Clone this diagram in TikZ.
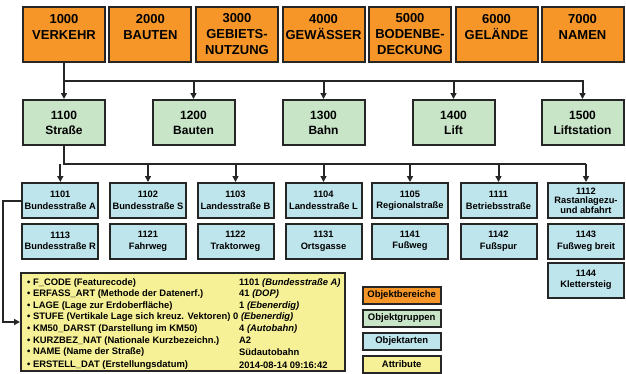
\documentclass[tikz,border=0pt]{standalone}
\usepackage{fontspec}
\setmainfont{Liberation Sans}
\usetikzlibrary{arrows.meta}

\definecolor{bereich}{RGB}{246,150,40}
\definecolor{gruppe}{RGB}{200,229,200}
\definecolor{art}{RGB}{190,228,236}
\definecolor{attrib}{RGB}{246,240,150}

\tikzset{
    box/.style={draw=black!85, line width=2pt, align=center, inner sep=0pt,
        font=\bfseries},
    bereichbox/.style={box, fill=bereich, minimum width=82, minimum height=55,
        font=\bfseries\fontsize{13}{16}\selectfont},
    gruppebox/.style={box, fill=gruppe, minimum width=82, minimum height=45,
        font=\bfseries\fontsize{12}{15}\selectfont},
    artbox/.style={box, fill=art, minimum width=76, minimum height=35,
        font=\bfseries\fontsize{9.3}{11.5}\selectfont},
    legendbox/.style={box, minimum width=78, minimum height=17,
        font=\bfseries\fontsize{9.5}{11}\selectfont},
    attrline/.style={anchor=west, inner sep=0pt, font=\bfseries\fontsize{9.4}{11}\selectfont},
    link/.style={draw=black!85, line width=2pt},
    linkarrow/.style={link, -{Triangle[length=6pt,width=6pt]}},
}

\begin{document}
\begin{tikzpicture}[x=1pt,y=-1pt]
    \useasboundingbox (0,0) rectangle (626,373);

    % Objektbereiche
    \node[bereichbox] (b1000) at (64,34.5) {1000\\VERKEHR\\~};
    \node[bereichbox] (b2000) at (150.4,34.5) {2000\\BAUTEN\\~};
    \node[bereichbox] (b3000) at (237,34.5) {3000\\GEBIETS-\\NUTZUNG};
    \node[bereichbox] (b4000) at (323.5,34.5) {4000\\GEWÄSSER\\~};
    \node[bereichbox] (b5000) at (410,34.5) {5000\\BODENBE-\\DECKUNG};
    \node[bereichbox] (b6000) at (496.5,34.5) {6000\\GELÄNDE\\~};
    \node[bereichbox] (b7000) at (582.5,34.5) {7000\\NAMEN\\~};

    % Objektgruppen
    \node[gruppebox] (g1100) at (64,122.5) {1100\\Straße};
    \node[gruppebox] (g1200) at (193.5,122.5) {1200\\Bauten};
    \node[gruppebox] (g1300) at (323.5,122.5) {1300\\Bahn};
    \node[gruppebox] (g1400) at (453.5,122.5) {1400\\Lift};
    \node[gruppebox] (g1500) at (582.5,122.5) {1500\\Liftstation};

    % Objektarten
    \node[artbox] (a1101) at (60.3,200.5) {1101\\Bundesstraße A};
    \node[artbox] (a1102) at (148,200.5) {1102\\Bundesstraße S};
    \node[artbox] (a1103) at (235.5,200.5) {1103\\Landesstraße B};
    \node[artbox] (a1104) at (323.5,200.5) {1104\\Landesstraße L};
    \node[artbox] (a1105) at (410,200.5) {1105\\Regionalstraße};
    \node[artbox] (a1111) at (498.5,200.5) {1111\\Betriebsstraße};
    \node[artbox, font=\bfseries\fontsize{9.3}{9.6}\selectfont] (a1112) at (586,200.5)
        {1112\\Rastanlagezu-\\und abfahrt};
    \node[artbox] (a1113) at (60.3,241) {1113\\Bundesstraße R};
    \node[artbox] (a1121) at (148,241) {1121\\Fahrweg};
    \node[artbox] (a1122) at (235.5,241) {1122\\Traktorweg};
    \node[artbox] (a1131) at (323.5,241) {1131\\Ortsgasse};
    \node[artbox] (a1141) at (410,241) {1141\\Fußweg};
    \node[artbox] (a1142) at (498.5,241) {1142\\Fußspur};
    \node[artbox] (a1143) at (586,241) {1143\\Fußweg breit};
    \node[artbox] (a1144) at (586,280) {1144\\Klettersteig};

    % Verbindungen
    \coordinate (busA) at (64,81);
    \coordinate (busAend) at (584,81);
    \draw[link] (b1000.south) -- (busA) -- (busAend);
    \foreach \n in {g1100,g1200,g1300,g1400,g1500}
        \draw[linkarrow] (busA -| \n) -- (\n.north);

    \coordinate (busB) at (64,164);
    \coordinate (busBend) at (586,164);
    \draw[link] (g1100.south) -- (busB) -- (busBend);
    \foreach \n in {a1101,a1102,a1103,a1104,a1105,a1111,a1112}
        \draw[linkarrow] (busB -| \n) -- (\n.north);

    % Attribute
    \node[box, fill=attrib, minimum width=324, minimum height=98] (attr) at (183,322) {};
    \draw[linkarrow] (a1101.west) -- ++(-18,0) |- (attr.west);

    \node[attrline] (k1) at (27,282.7) {• F\_CODE (Featurecode)};
    \node[attrline] (k2) at (27,294.2) {• ERFASS\_ART (Methode der Datenerf.)};
    \node[attrline] (k3) at (27,305.7) {• LAGE (Lage zur Erdoberfläche)};
    \node[attrline] (k4) at (27,317.2) {• STUFE (Vertikale Lage sich kreuz. Vektoren)};
    \node[attrline] (k5) at (27,328.9) {• KM50\_DARST (Darstellung im KM50)};
    \node[attrline] (k6) at (27,340.6) {• KURZBEZ\_NAT (Nationale Kurzbezeichn.)};
    \node[attrline] (k7) at (27,352.3) {• NAME (Name der Straße)};
    \node[attrline] (k8) at (27,365) {• ERSTELL\_DAT (Erstellungsdatum)};

    \node[attrline] (v1) at (239,282.7) {1101 \textit{(Bundesstraße A)}};
    \node[attrline] (v2) at (239,294.2) {41 \textit{(DOP)}};
    \node[attrline] (v3) at (239,305.7) {1 \textit{(Ebenerdig)}};
    \node[attrline] (v4) at (233,317.2) {0 \textit{(Ebenerdig)}};
    \node[attrline] (v5) at (239,328.9) {4 \textit{(Autobahn)}};
    \node[attrline] (v6) at (239,340.6) {A2};
    \node[attrline] (v7) at (239,352.3) {Südautobahn};
    \node[attrline] (v8) at (239,365) {2014-08-14 09:16:42};

    % Legende
    \node[legendbox, fill=bereich] (legB) at (401.7,295.5) {Objektbereiche};
    \node[legendbox, fill=gruppe] (legG) at (401.7,318.5) {Objektgruppen};
    \node[legendbox, fill=art] (legA) at (401.7,341.5) {Objektarten};
    \node[legendbox, fill=attrib] (legT) at (401.7,364.5) {Attribute};
\end{tikzpicture}
\end{document}
